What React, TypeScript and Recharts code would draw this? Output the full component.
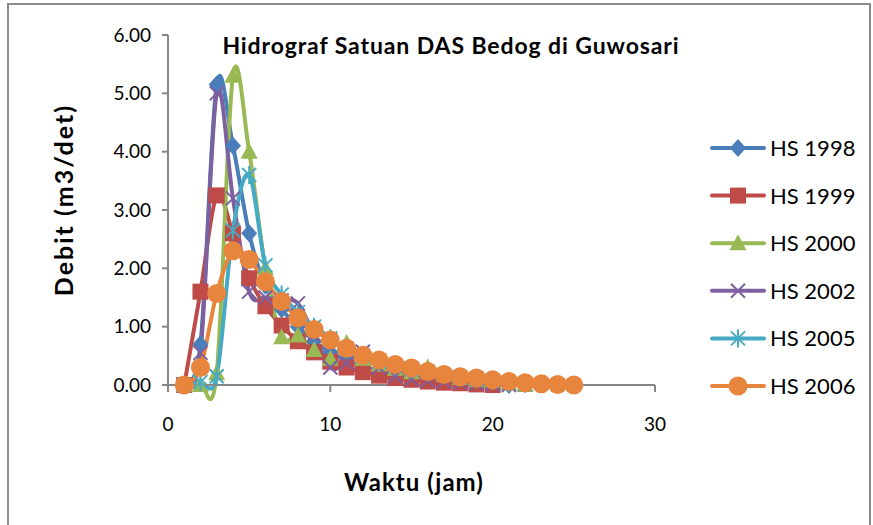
import React from 'react';
import { LineChart, Line, XAxis, YAxis } from 'recharts';

const waktu = [1, 2, 3, 4, 5, 6, 7, 8, 9, 10, 11, 12, 13, 14, 15, 16, 17, 18, 19, 20, 21, 22, 23, 24, 25];

const hs1998 = [0, 0.7, 5.15, 4.1, 2.6, 1.7, 1.3, 1.0, 0.75, 0.56, 0.42, 0.32, 0.24, 0.18, 0.13, 0.1, 0.07, 0.05, 0.03, 0.01, 0];
const hs1999 = [0, 1.6, 3.25, 2.6, 1.83, 1.35, 1.02, 0.75, 0.56, 0.4, 0.3, 0.22, 0.16, 0.12, 0.09, 0.06, 0.04, 0.03, 0.01, 0];
const hs2000 = [0, 0, 0.2, 5.3, 4.0, 2.0, 0.82, 0.85, 0.6, 0.45, 0.72, 0.45, 0.35, 0.28, 0.22, 0.3, 0.18, 0.12, 0.08, 0.1, 0.03, 0];
const hs2002 = [0, 0.55, 5.0, 3.2, 1.6, 1.5, 1.45, 1.4, 0.85, 0.3, 0.38, 0.57, 0.3, 0.15, 0.1, 0.08, 0.06, 0.04, 0.03, 0.01, 0];
const hs2005 = [0, 0.05, 0.15, 2.65, 3.6, 2.05, 1.55, 1.25, 1.0, 0.8, 0.62, 0.5, 0.4, 0.33, 0.27, 0.22, 0.17, 0.13, 0.1, 0.07, 0.04, 0.02];
const hs2006 = [0, 0.3, 1.57, 2.3, 2.15, 1.77, 1.43, 1.15, 0.95, 0.77, 0.63, 0.51, 0.43, 0.35, 0.29, 0.23, 0.18, 0.14, 0.12, 0.09, 0.06, 0.04, 0.02, 0.01, 0];

const xTicks = [0, 10, 20, 30];
const yTicks = [0, 1, 2, 3, 4, 5, 6];

const series = [
  { key: 'hs1998', name: 'HS 1998', values: hs1998, color: '#4A7EBB', marker: 'diamond' },
  { key: 'hs1999', name: 'HS 1999', values: hs1999, color: '#BE4B48', marker: 'square' },
  { key: 'hs2000', name: 'HS 2000', values: hs2000, color: '#98B954', marker: 'triangle' },
  { key: 'hs2002', name: 'HS 2002', values: hs2002, color: '#7D60A0', marker: 'x' },
  { key: 'hs2005', name: 'HS 2005', values: hs2005, color: '#46AAC5', marker: 'star' },
  { key: 'hs2006', name: 'HS 2006', values: hs2006, color: '#E8853D', marker: 'circle' },
];

const data = waktu.map((t, i) => {
  const row: Record<string, number | undefined> = { waktu: t };
  series.forEach((s) => {
    row[s.key] = s.values[i];
  });
  return row;
});

const FONT = 'Lato, "Noto Sans", sans-serif';

// excel-style smoothed line (catmull-rom through the points)
function smoothCurve(context: any) {
  let pts: number[][] = [];
  return {
    areaStart() {},
    areaEnd() {},
    lineStart() {
      pts = [];
    },
    point(x: number, y: number) {
      pts.push([+x, +y]);
    },
    lineEnd() {
      if (!pts.length) return;
      context.moveTo(pts[0][0], pts[0][1]);
      for (let i = 0; i < pts.length - 1; i++) {
        const p0 = pts[Math.max(i - 1, 0)];
        const p1 = pts[i];
        const p2 = pts[i + 1];
        const p3 = pts[Math.min(i + 2, pts.length - 1)];
        context.bezierCurveTo(
          p1[0] + (p2[0] - p0[0]) / 6,
          p1[1] + (p2[1] - p0[1]) / 6,
          p2[0] - (p3[0] - p1[0]) / 6,
          p2[1] - (p3[1] - p1[1]) / 6,
          p2[0],
          p2[1]
        );
      }
    },
  };
}

function Marker({ type, x, y, color }: { type: string; x: number; y: number; color: string }) {
  if (type === 'diamond') {
    return <path d={`M${x},${y - 9} L${x + 8},${y} L${x},${y + 9} L${x - 8},${y} Z`} fill={color} />;
  }
  if (type === 'square') {
    return <rect x={x - 8} y={y - 8} width={16} height={16} fill={color} />;
  }
  if (type === 'triangle') {
    return <path d={`M${x},${y - 9} L${x + 8.5},${y + 7} L${x - 8.5},${y + 7} Z`} fill={color} />;
  }
  if (type === 'x') {
    return (
      <path d={`M${x - 7},${y - 7} L${x + 7},${y + 7} M${x - 7},${y + 7} L${x + 7},${y - 7}`} stroke={color} strokeWidth={2} />
    );
  }
  if (type === 'star') {
    return (
      <path
        d={`M${x - 7},${y - 7} L${x + 7},${y + 7} M${x - 7},${y + 7} L${x + 7},${y - 7} M${x},${y - 9} L${x},${y + 9}`}
        stroke={color}
        strokeWidth={2}
      />
    );
  }
  return <circle cx={x} cy={y} r={9.5} fill={color} />;
}

function makeDot(type: string, color: string) {
  return (props: any) => {
    const { cx, cy, index } = props;
    if (cx == null || cy == null || props.value == null) return <g key={`e-${index}`} />;
    return (
      <g key={`d-${index}`}>
        <Marker type={type} x={cx} y={cy} color={color} />
      </g>
    );
  };
}

export default function App() {
  return (
    <div style={{ position: 'absolute', left: 0, top: 0, width: 873, height: 525, overflow: 'hidden', background: '#fff', fontFamily: FONT }}>
      <div style={{ position: 'absolute', left: 7, top: 3, width: 860, height: 600, border: '2px solid #8c8c8c' }} />

      <div style={{ position: 'absolute', left: 0, top: 0 }}>
        <LineChart width={873} height={525} data={data} margin={{ top: 35, right: 218, bottom: 110, left: 108 }}>
          <XAxis
            dataKey="waktu"
            type="number"
            domain={[0, 30]}
            ticks={xTicks}
            stroke="#868686"
            strokeWidth={2}
            tickSize={7}
            tickMargin={26}
            height={30}
            tick={{ fill: '#000', fontSize: 19, fontFamily: FONT }}
          />
          <YAxis
            type="number"
            domain={[0, 6]}
            ticks={yTicks}
            tickFormatter={(v: number) => v.toFixed(2)}
            stroke="#868686"
            strokeWidth={2}
            tickSize={6}
            tickMargin={11}
            width={60}
            tick={{ fill: '#000', fontSize: 19, fontFamily: FONT }}
          />
          {series.map((s) => (
            <Line
              key={s.key}
              dataKey={s.key}
              name={s.name}
              type={smoothCurve as any}
              stroke={s.color}
              strokeWidth={4}
              dot={makeDot(s.marker, s.color)}
              activeDot={false}
              isAnimationActive={false}
            />
          ))}
        </LineChart>
      </div>

      <div
        style={{
          position: 'absolute',
          left: 451,
          top: 45,
          transform: 'translate(-50%, -50%)',
          whiteSpace: 'nowrap',
          fontWeight: 700,
          fontSize: 23,
          letterSpacing: 0.9,
          color: '#000',
        }}
      >
        Hidrograf Satuan DAS Bedog di Guwosari
      </div>

      <div
        style={{
          position: 'absolute',
          left: 63,
          top: 200,
          transform: 'translate(-50%, -50%) rotate(-90deg)',
          whiteSpace: 'nowrap',
          fontWeight: 700,
          fontSize: 25,
          letterSpacing: 2,
          color: '#000',
        }}
      >
        Debit (m3/det)
      </div>

      <div
        style={{
          position: 'absolute',
          left: 414,
          top: 481,
          transform: 'translate(-50%, -50%)',
          whiteSpace: 'nowrap',
          fontWeight: 700,
          fontSize: 24,
          letterSpacing: 1,
          color: '#000',
        }}
      >
        Waktu (jam)
      </div>

      <svg style={{ position: 'absolute', left: 700, top: 120 }} width={173} height={290}>
        {series.map((s, i) => {
          const y = 28 + i * 47.6;
          return (
            <g key={s.key}>
              <line x1={12} x2={64} y1={y} y2={y} stroke={s.color} strokeWidth={4} strokeLinecap="round" />
              <Marker type={s.marker} x={38} y={y} color={s.color} />
              <text x={70} y={y} dy="0.36em" fontSize={22} fontFamily={FONT} fill="#000">
                {s.name}
              </text>
            </g>
          );
        })}
      </svg>
    </div>
  );
}
